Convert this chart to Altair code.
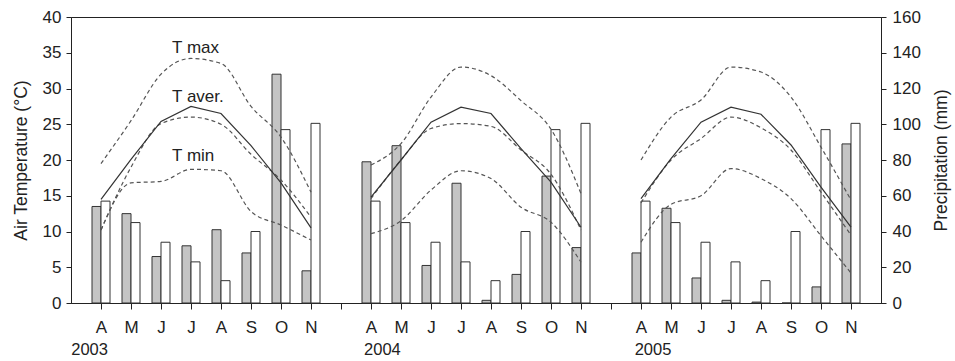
import altair as alt
import pandas as pd

# ---------------- data ----------------
months = ["A", "M", "J", "J", "A", "S", "O", "N"]
years = ["2003", "2004", "2005"]

# precipitation (mm): observed per year (grey) and long-term mean (white)
precip_2003 = [54, 50, 26, 32, 41, 28, 128, 18]
precip_2004 = [79, 88, 21, 67, 1.5, 16, 71, 31]
precip_2005 = [28, 53, 14, 1.5, 0.5, 0, 9, 89]
precip_longterm = [57, 45, 34, 23, 12.5, 40, 97, 100.5]

# air temperature (°C)
tmax_2003 = [19.5, 25.5, 32.0, 34.2, 33.5, 27.5, 23.2, 15.5]
taver_2003 = [14.5, 20.1, 25.4, 27.5, 26.5, 22.0, 16.8, 10.5]
tdash_2003 = [10.2, 19.0, 25.1, 26.0, 25.0, 20.8, 17.2, 12.0]
tmin_2003 = [10.2, 16.8, 17.0, 18.7, 18.5, 12.8, 10.9, 8.8]

tmax_2004 = [19.3, 22.3, 28.8, 33.0, 31.8, 28.3, 24.3, 15.3]
taver_2004 = [14.8, 20.0, 25.3, 27.4, 26.5, 21.6, 16.9, 10.6]
tdash_2004 = [14.6, 20.0, 24.4, 25.1, 24.7, 21.4, 18.0, 10.2]
tmin_2004 = [9.7, 11.5, 15.8, 18.5, 17.4, 13.4, 11.3, 5.7]

tmax_2005 = [20.0, 26.0, 28.4, 33.0, 32.3, 28.8, 21.8, 14.4]
taver_2005 = [14.6, 20.2, 25.3, 27.4, 26.4, 22.1, 16.2, 10.6]
tdash_2005 = [14.0, 20.0, 23.0, 26.0, 24.5, 21.4, 15.5, 9.5]
tmin_2005 = [8.5, 13.8, 15.0, 18.8, 17.4, 14.6, 9.4, 4.2]

series_labels = ["T max", "T aver.", "T min"]

# ---------------- tables ----------------
precip = {"2003": precip_2003, "2004": precip_2004, "2005": precip_2005}
temps = {
    "2003": {"tmax": tmax_2003, "taver": taver_2003, "tdash": tdash_2003, "tmin": tmin_2003},
    "2004": {"tmax": tmax_2004, "taver": taver_2004, "tdash": tdash_2004, "tmin": tmin_2004},
    "2005": {"tmax": tmax_2005, "taver": taver_2005, "tdash": tdash_2005, "tmin": tmin_2005},
}

bar_rows, line_rows = [], []
for yi, yr in enumerate(years):
    for mi, m in enumerate(months):
        slot = yi * 9 + mi + 1
        bar_rows.append({"kind": "obs", "x0": slot - 0.3, "x1": slot, "p": precip[yr][mi]})
        bar_rows.append({"kind": "lt", "x0": slot, "x1": slot + 0.3, "p": precip_longterm[mi]})
        for s, vals in temps[yr].items():
            line_rows.append({"series": s, "year": yr, "slot": slot, "T": vals[mi]})

bar_df = pd.DataFrame(bar_rows)
line_df = pd.DataFrame(line_rows)
dash_df = line_df[line_df.series != "taver"]
solid_df = line_df[line_df.series == "taver"]

label_df = pd.DataFrame({"label": series_labels, "slot": [3.37, 3.37, 3.37], "T": [35.6, 28.8, 20.5]})
year_df = pd.DataFrame({"year": years, "slot": [0.62, 10.38, 19.4]})

FONT = "Liberation Sans"
INK = "#222222"

xscale = alt.Scale(domain=[0, 27], nice=False, zero=False)
xaxis = alt.Axis(
    values=list(range(1, 27)),
    labelExpr="['', 'A','M','J','J','A','S','O','N'][datum.value % 9]",
    title=None, grid=False, tickSize=6, labelPadding=10, labelFontSize=17,
    labelColor=INK, domainColor=INK, tickColor=INK, labelFont=FONT,
)
X = alt.X("slot:Q", scale=xscale, axis=xaxis)

bars = alt.Chart(bar_df).mark_bar(stroke="#333333", strokeWidth=1).encode(
    x=alt.X("x0:Q", scale=xscale, axis=xaxis),
    x2="x1",
    y=alt.Y("p:Q", scale=alt.Scale(domain=[0, 160], nice=False),
            axis=alt.Axis(orient="right", values=list(range(0, 161, 20)),
                          title="Precipitation (mm)", titleAngle=270, titleBaseline="top",
                          grid=False, tickSize=5, labelPadding=6, titlePadding=12)),
    y2=alt.datum(0),
    fill=alt.Fill("kind:N", scale=alt.Scale(domain=["obs", "lt"], range=["#c4c4c4", "#ffffff"]),
                  legend=None),
)

yscale = alt.Scale(domain=[0, 40], nice=False)
yaxis = alt.Axis(orient="left", values=list(range(0, 41, 5)), title="Air Temperature (°C)",
                 grid=False, tickSize=5, labelPadding=5, titlePadding=12)

dashed = alt.Chart(dash_df).mark_line(
    strokeDash=[4, 3], color="#555555", strokeWidth=1.2, interpolate="monotone"
).encode(
    x=X,
    y=alt.Y("T:Q", scale=yscale, axis=yaxis),
    detail=["series:N", "year:N"],
)

solid = alt.Chart(solid_df).mark_line(color="#333333", strokeWidth=1.2).encode(
    x=X,
    y=alt.Y("T:Q", scale=yscale, axis=yaxis),
    detail="year:N",
)

labels = alt.Chart(label_df).mark_text(
    align="left", baseline="middle", fontSize=17, font=FONT, color=INK
).encode(
    x=X,
    y=alt.Y("T:Q", scale=yscale, axis=yaxis),
    text="label:N",
)

year_text = alt.Chart(year_df).mark_text(
    align="center", baseline="middle", fontSize=16.5, font=FONT, color=INK
).encode(
    x=X,
    y=alt.value(333),
    text="year:N",
)

temp_layer = alt.layer(dashed, solid, labels, year_text)

chart = alt.layer(bars, temp_layer).resolve_scale(y="independent").properties(
    width=810, height=286,
    autosize=alt.AutoSizeParams(type="none"),
    padding={"left": 71, "top": 17, "right": 74, "bottom": 58},
    background="white",
).configure_view(stroke=INK, strokeWidth=1).configure_axis(
    labelFont=FONT, titleFont=FONT, labelFontSize=17, titleFontSize=17.5,
    titleFontWeight="normal", labelColor=INK, titleColor=INK,
    domainColor=INK, tickColor=INK,
)

chart.save("out.html", embed_options={"renderer": "svg", "actions": False})
